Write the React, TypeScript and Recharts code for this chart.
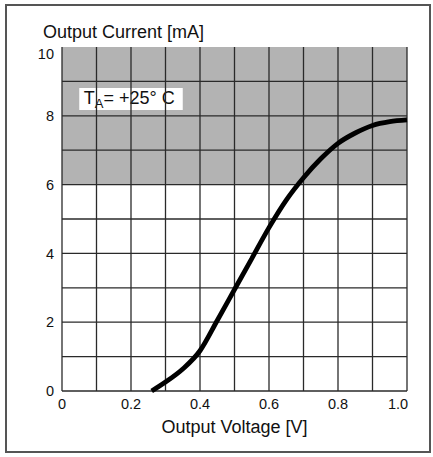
import React from 'react';
import { LineChart, Line, XAxis, YAxis, ReferenceArea, ReferenceLine } from 'recharts';

// Output voltage [V] vs output current [mA]
const voltage = [0.26, 0.3, 0.35, 0.4, 0.45, 0.5, 0.55, 0.6, 0.65, 0.7, 0.75, 0.8, 0.85, 0.9, 0.95, 1.0];
const current = [0, 0.26, 0.64, 1.17, 2.05, 2.95, 3.85, 4.75, 5.55, 6.2, 6.75, 7.2, 7.5, 7.72, 7.83, 7.88];

const xTicks = [0, 0.2, 0.4, 0.6, 0.8, 1.0];
const xTickLabels = ['0', '0.2', '0.4', '0.6', '0.8', '1.0'];
const yTicks = [0, 2, 4, 6, 8, 10];
const xGrid = [0, 0.1, 0.2, 0.3, 0.4, 0.5, 0.6, 0.7, 0.8, 0.9, 1.0];
const yGrid = [0, 1, 2, 3, 4, 5, 6, 7, 8, 9];

const data = voltage.map((v, i) => ({ v, i: current[i] }));

const FONT = '"Liberation Sans", Arial, Helvetica, sans-serif';
const GRID = '#2a2a2a';

const XTick = (props: any) => {
  const { x, y, payload } = props;
  const idx = xTicks.indexOf(payload.value);
  const dx = payload.value === 1 ? -9 : 0;
  return (
    <text x={x + dx} y={y} dy="0.71em" textAnchor="middle" fontFamily={FONT} fontSize={14.5} fill="#111">
      {idx >= 0 ? xTickLabels[idx] : String(payload.value)}
    </text>
  );
};

const YTick = (props: any) => {
  const { x, y, payload } = props;
  const dy = payload.value === 10 ? 7 : 0;
  return (
    <text x={x} y={y + dy} dy="0.355em" textAnchor="end" fontFamily={FONT} fontSize={14.5} fill="#111">
      {String(payload.value)}
    </text>
  );
};

const TaLabel = (props: any) => {
  const vb = props.viewBox || {};
  const x = vb.x ?? 0;
  const y = vb.y ?? 0;
  const h = vb.height ?? 0;
  return (
    <text x={x + 4.5} y={y + h - 5.5} fontFamily={FONT} fontSize={18} fill="#111">
      <tspan>T</tspan>
      <tspan fontSize={13} dy={4}>A</tspan>
      <tspan dy={-4}>= +25° C</tspan>
    </text>
  );
};

export default function App() {
  return (
    <div style={{ position: 'absolute', left: 0, top: 0, width: 433, height: 457, background: '#fff' }}>
      <LineChart
        width={433}
        height={457}
        data={data}
        margin={{ top: 47, right: 26, bottom: 36, left: 0 }}
      >
        <XAxis
          dataKey="v"
          type="number"
          domain={[0, 1]}
          ticks={xTicks}
          axisLine={false}
          tickLine={false}
          height={30}
          tick={<XTick />}
          interval={0}
        />
        <YAxis
          type="number"
          domain={[0, 10]}
          ticks={yTicks}
          axisLine={false}
          tickLine={false}
          width={62}
          tick={<YTick />}
          interval={0}
        />
        <ReferenceArea x1={0} x2={1} y1={6} y2={10} fill="#b3b3b3" fillOpacity={1} stroke="none" />
        {xGrid.map((g) => (
          <ReferenceLine key={'x' + g} x={g} stroke={GRID} strokeWidth={1.3} />
        ))}
        {yGrid.map((g) => (
          <ReferenceLine key={'y' + g} y={g} stroke={GRID} strokeWidth={1.3} />
        ))}
        <ReferenceArea
          x1={0.05}
          x2={0.35}
          y1={8.17}
          y2={8.81}
          fill="#ffffff"
          fillOpacity={1}
          stroke="none"
          label={<TaLabel />}
        />
        <Line
          dataKey="i"
          type="monotone"
          stroke="#000"
          strokeWidth={4.8}
          dot={false}
          activeDot={false}
          isAnimationActive={false}
        />
      </LineChart>
      <svg
        width={433}
        height={457}
        style={{ position: 'absolute', left: 0, top: 0, pointerEvents: 'none' }}
      >
        <rect x={6} y={5} width={424} height={447} fill="none" stroke="#555" strokeWidth={2} />
        <text x={43} y={38} fontFamily={FONT} fontSize={18} fill="#111">Output Current [mA]</text>
        <text x={234.5} y={433} textAnchor="middle" fontFamily={FONT} fontSize={18} fill="#111">Output Voltage [V]</text>
      </svg>
    </div>
  );
}
